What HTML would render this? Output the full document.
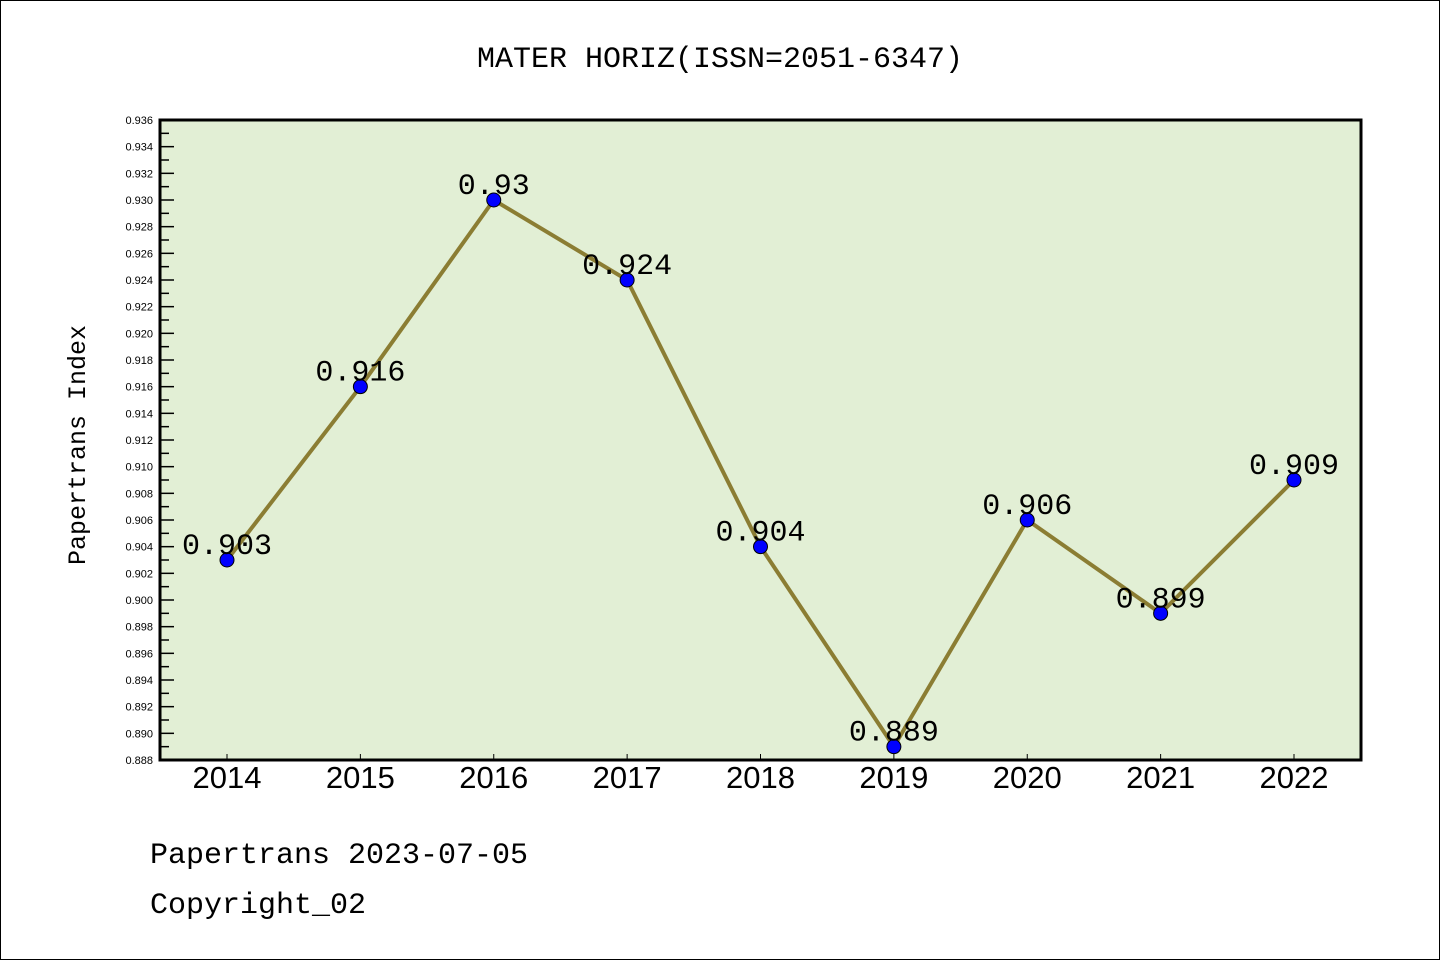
<!DOCTYPE html>
<html><head><meta charset="utf-8"><style>
html,body{margin:0;padding:0;background:#fff;}
svg{display:block;}
</style></head><body>
<svg id="chart" width="1440" height="960" xmlns="http://www.w3.org/2000/svg">
<rect x="0.5" y="0.5" width="1439" height="959" fill="#fff" stroke="#000" stroke-width="1"/>
<text x="720" y="67" text-anchor="middle" font-family="Liberation Mono, monospace" font-size="30">MATER HORIZ(ISSN=2051-6347)</text>
<rect x="160" y="120" width="1201" height="640" fill="#e2efd5"/>
<g id="yaxis"></g>
<g id="xaxis"></g>
<g id="series"></g>
<rect x="160" y="120" width="1201" height="640" fill="none" stroke="#000" stroke-width="3"/>
<text transform="translate(85,445) rotate(-90)" text-anchor="middle" font-family="Liberation Mono, monospace" font-size="25">Papertrans Index</text>
<text x="150" y="863" font-family="Liberation Mono, monospace" font-size="30">Papertrans 2023-07-05</text>
<text x="150" y="913" font-family="Liberation Mono, monospace" font-size="30">Copyright_02</text>
</svg>
<script>
const categories = ["2014","2015","2016","2017","2018","2019","2020","2021","2022"];
const values = [0.903,0.916,0.930,0.924,0.904,0.889,0.906,0.899,0.909];
const valueLabels = ["0.903","0.916","0.93","0.924","0.904","0.889","0.906","0.899","0.909"];
const yMin = 0.888, yMax = 0.936;
const NS = "http://www.w3.org/2000/svg";
const L=160,R=1361,T=120,B=760;
function y(v){return B-(v-yMin)/(yMax-yMin)*(B-T);}
function x(i){return 227+i*(1294-227)/(categories.length-1);}
function mk(tag,attrs,parent){const e=document.createElementNS(NS,tag);for(const k in attrs)e.setAttribute(k,attrs[k]);parent.appendChild(e);return e;}
const ya=document.getElementById('yaxis');
for(let k=0;k<=48;k++){
  const v=yMin+k*0.001, yy=y(v);
  const major=k%2===0;
  const t=mk('line',{x1:L,x2:L+(major?14:9),y1:yy,y2:yy,stroke:'#000','stroke-width':1.5},ya);
  
  
  if(major){
    const lb=mk('text',{x:153,y:yy+4,'text-anchor':'end','font-family':'Liberation Sans, sans-serif','font-size':11},ya);
    
    
    lb.textContent=v.toFixed(3);
  }
}
const xa=document.getElementById('xaxis');
categories.forEach((c,i)=>{
  const t=mk('line',{x1:x(i),x2:x(i),y1:B,y2:B-6,stroke:'#000','stroke-width':1},xa);
  
  
  const lb=mk('text',{x:x(i),y:788,'text-anchor':'middle','font-family':'Liberation Sans, sans-serif','font-size':31},xa);
  
  
  lb.textContent=c;
});
const s=document.getElementById('series');
const pl=mk('polyline',{points:values.map((v,i)=>x(i)+','+y(v)).join(' '),fill:'none',stroke:'#8b7d33','stroke-width':4},s);


values.forEach((v,i)=>{
  const c=mk('circle',{cx:x(i),cy:y(v),r:7,fill:'#0000ff',stroke:'#000','stroke-width':1},s);
  
  
});
values.forEach((v,i)=>{
  const t=mk('text',{x:x(i),y:y(v)-6,'text-anchor':'middle','font-family':'Liberation Mono, monospace','font-size':30},s);
  
  
  t.textContent=valueLabels[i];
});
</script>
</body></html>
